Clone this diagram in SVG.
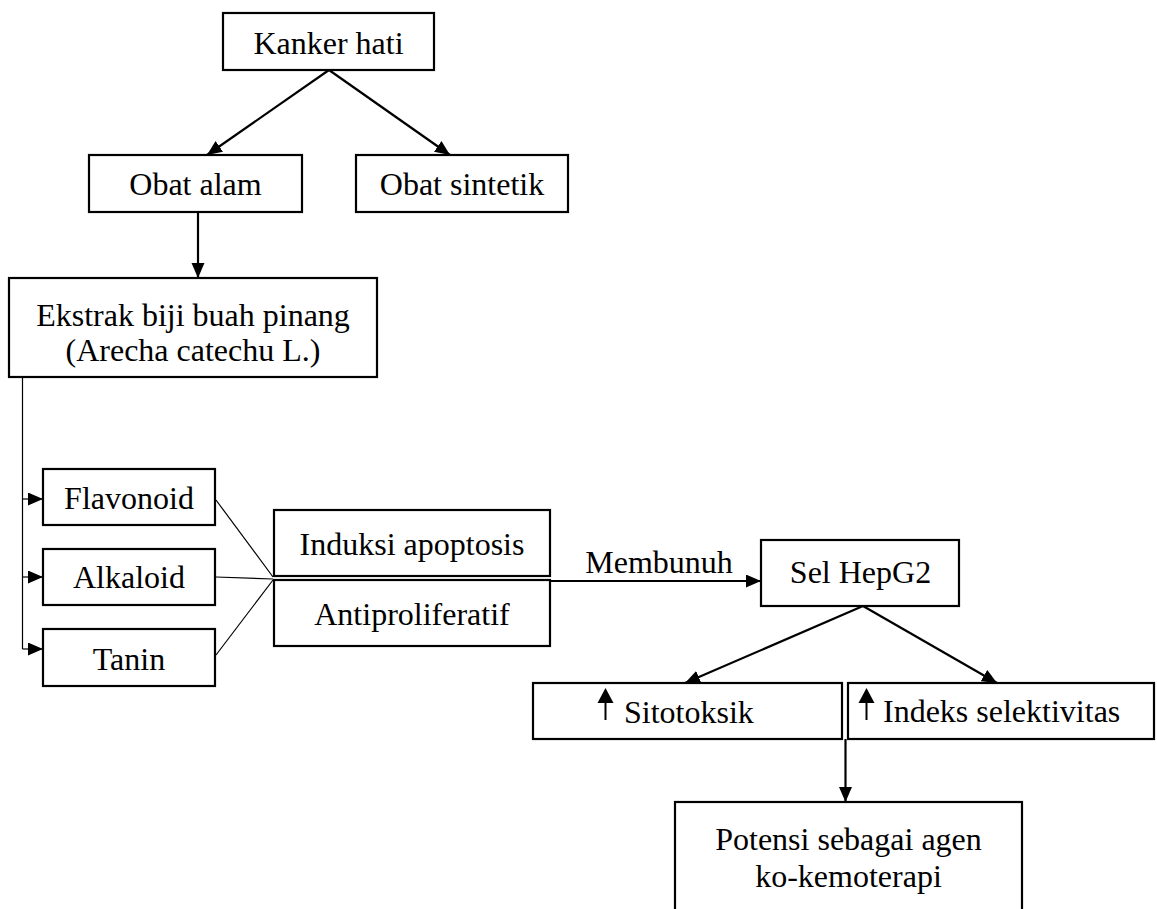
<svg xmlns="http://www.w3.org/2000/svg" width="1157" height="909" viewBox="0 0 1157 909">
<style>
  .box { fill: #ffffff; stroke: #000000; stroke-width: 2.2; }
  .t { font-family: "Liberation Serif", "Times New Roman", serif; font-size: 32px; fill: #000000; text-anchor: middle; }
  .ts { font-family: "Liberation Serif", "Times New Roman", serif; font-size: 32px; fill: #000000; text-anchor: start; }
  .c { fill: none; stroke: #000000; stroke-width: 2.2; }
  .thin { fill: none; stroke: #000000; stroke-width: 1.2; }
</style>
<defs>
  <marker id="ah" markerUnits="userSpaceOnUse" markerWidth="16" markerHeight="14" refX="15" refY="6.5" orient="auto">
    <path d="M0,0 L15,6.5 L0,13 Z" fill="#000000"/>
  </marker>
  <marker id="ahs" markerUnits="userSpaceOnUse" markerWidth="16" markerHeight="14" refX="15" refY="6.5" orient="auto">
    <path d="M0,0 L15,6.5 L0,13 Z" fill="#000000"/>
  </marker>
</defs>

<g id="connectors">
  <line class="c" x1="329" y1="70" x2="207" y2="155" marker-end="url(#ah)"/>
  <line class="c" x1="329" y1="70" x2="450" y2="155" marker-end="url(#ah)"/>
  <line class="c" x1="198" y1="212" x2="198" y2="278" marker-end="url(#ah)"/>
  <line class="thin" x1="22.5" y1="377" x2="22.5" y2="649"/>
  <line class="thin" x1="22.5" y1="499" x2="43" y2="499" marker-end="url(#ahs)"/>
  <line class="thin" x1="22.5" y1="577" x2="43" y2="577" marker-end="url(#ahs)"/>
  <line class="thin" x1="22.5" y1="649" x2="43" y2="649" marker-end="url(#ahs)"/>
  <line class="thin" x1="216" y1="500" x2="273" y2="577"/>
  <line class="thin" x1="216" y1="577" x2="273" y2="579"/>
  <line class="thin" x1="216" y1="655" x2="273" y2="580"/>
  <line class="c" x1="550" y1="581" x2="761" y2="581" marker-end="url(#ah)"/>
  <text class="t" x="659" y="573">Membunuh</text>
  <line class="c" x1="863" y1="606" x2="685" y2="683" marker-end="url(#ah)"/>
  <line class="c" x1="863" y1="606" x2="997" y2="683" marker-end="url(#ah)"/>
  <line class="c" x1="845.5" y1="739" x2="845.5" y2="802" marker-end="url(#ah)" stroke-width="3"/>
</g>

<g id="kanker-hati">
  <rect class="box" x="223" y="13" width="211" height="57"/>
  <text class="t" x="328.5" y="54">Kanker hati</text>
</g>
<g id="obat-alam">
  <rect class="box" x="89" y="155" width="213" height="57"/>
  <text class="t" x="195.5" y="195">Obat alam</text>
</g>
<g id="obat-sintetik">
  <rect class="box" x="356" y="155" width="212" height="57"/>
  <text class="t" x="462" y="195">Obat sintetik</text>
</g>
<g id="ekstrak">
  <rect class="box" x="9" y="278" width="368" height="99"/>
  <text class="t" x="193" y="326">Ekstrak biji buah pinang</text>
  <text class="t" x="193" y="361">(Arecha catechu L.)</text>
</g>
<g id="flavonoid">
  <rect class="box" x="43" y="469" width="172" height="56"/>
  <text class="t" x="129" y="509">Flavonoid</text>
</g>
<g id="alkaloid">
  <rect class="box" x="43" y="549" width="172" height="56"/>
  <text class="t" x="129" y="588">Alkaloid</text>
</g>
<g id="tanin">
  <rect class="box" x="43" y="629" width="172" height="57"/>
  <text class="t" x="129" y="670">Tanin</text>
</g>
<g id="induksi-apoptosis">
  <rect class="box" x="274" y="510" width="276" height="66"/>
  <text class="t" x="412" y="555">Induksi apoptosis</text>
</g>
<g id="antiproliferatif">
  <rect class="box" x="274" y="580" width="276" height="66"/>
  <text class="t" x="412" y="625">Antiproliferatif</text>
</g>
<g id="sel-hepg2">
  <rect class="box" x="761" y="540" width="198" height="66"/>
  <text class="t" x="860.5" y="583">Sel HepG2</text>
</g>
<g id="sitotoksik">
  <rect class="box" x="533" y="683" width="309" height="56"/>
  <line x1="605.5" y1="720" x2="605.5" y2="700" stroke="#000" stroke-width="2"/>
  <path d="M597.5,703 L605.5,688 L613.5,703 Z" fill="#000"/>
  <text class="ts" x="624" y="723">Sitotoksik</text>
</g>
<g id="indeks-selektivitas">
  <rect class="box" x="848" y="683" width="306" height="56"/>
  <line x1="866.5" y1="720" x2="866.5" y2="700" stroke="#000" stroke-width="2"/>
  <path d="M858.5,703 L866.5,688 L874.5,703 Z" fill="#000"/>
  <text class="ts" x="883" y="722">Indeks selektivitas</text>
</g>
<g id="potensi">
  <rect class="box" x="675" y="802" width="347" height="120"/>
  <text class="t" x="848.5" y="850">Potensi sebagai agen</text>
  <text class="t" x="848.5" y="887">ko-kemoterapi</text>
</g>
</svg>
